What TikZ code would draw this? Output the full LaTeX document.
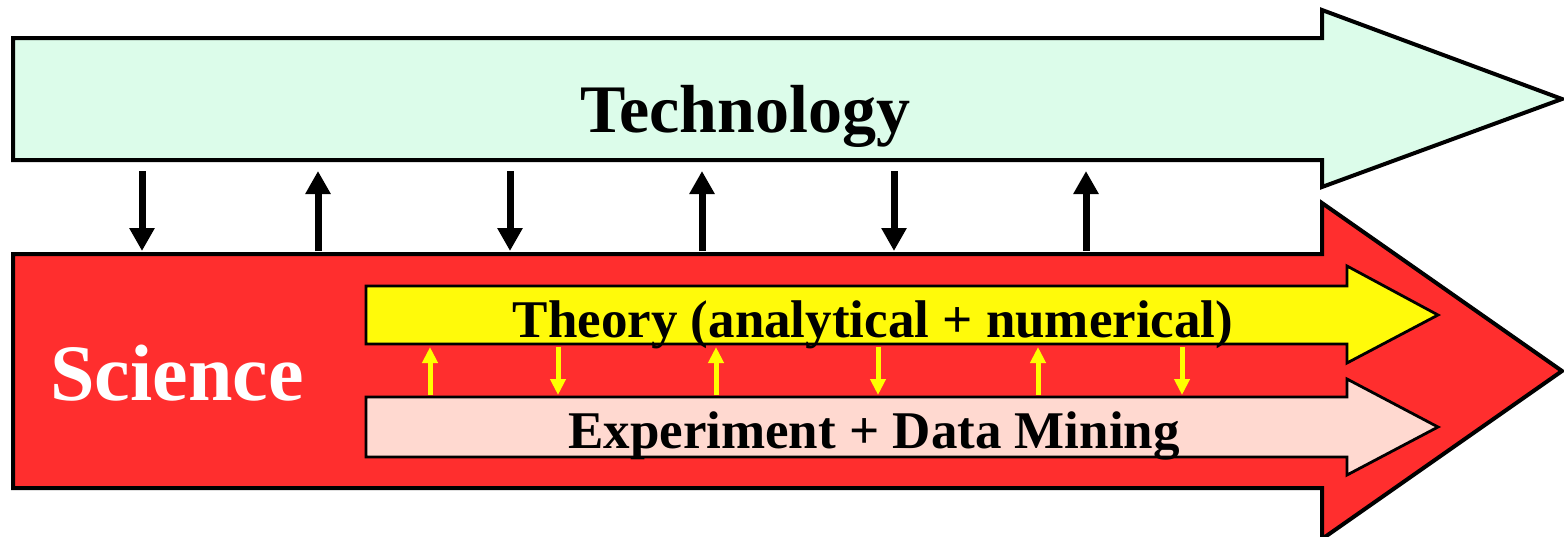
\documentclass[tikz,border=0pt]{standalone}
\usepackage{fontspec}
\setmainfont{Liberation Serif}
\usetikzlibrary{arrows.meta}
\definecolor{techfill}{HTML}{DCFCEA}
\definecolor{scifill}{HTML}{FF2E2E}
\definecolor{thfill}{HTML}{FFFA0A}
\definecolor{exfill}{HTML}{FFD9D0}
\definecolor{linkyellow}{HTML}{FFFF00}
\tikzset{
  bigarrow/.style={draw=black, line width=2pt, line join=miter},
  smallarrow/.style={draw=black, line width=1.4pt, line join=miter},
  bigtext/.style={font=\bfseries\fontsize{34}{40}\selectfont, anchor=base, inner sep=0pt},
  midtext/.style={font=\bfseries\fontsize{26.5}{30}\selectfont, anchor=base, inner sep=0pt},
  blacklink/.style={line width=3.5pt, -{Triangle[width=12pt,length=11.5pt]}, black},
  yellowlink/.style={line width=2.5pt, -{Triangle[width=7.5pt,length=8pt]}, linkyellow},
}
\begin{document}
\begin{tikzpicture}[x=0.5pt,y=-0.5pt]
\useasboundingbox (0,0) rectangle (1564,536);
% Technology arrow
\path[bigarrow, fill=techfill] (13,38) -- (1322,38) -- (1322,10) -- (1562,99) -- (1322,187) -- (1322,160) -- (13,160) -- cycle;
% Science arrow
\path[bigarrow, fill=scifill] (13,254) -- (1322,254) -- (1322,203) -- (1562,371) -- (1322,539) -- (1322,488) -- (13,488) -- cycle;
% Theory arrow
\path[smallarrow, fill=thfill] (366,286) -- (1347,286) -- (1347,266) -- (1438,315) -- (1347,363) -- (1347,344) -- (366,344) -- cycle;
% Experiment arrow
\path[smallarrow, fill=exfill] (366,397) -- (1347,397) -- (1347,379) -- (1438,427) -- (1347,475) -- (1347,457) -- (366,457) -- cycle;
% texts
\node[bigtext] (tech) at (745,132) {Technology};
\node[bigtext, font=\bfseries\fontsize{40}{46}\selectfont, text=white] (sci) at (177,400) {Science};
\node[midtext] (theory) at (873,337) {Theory (analytical + numerical)};
\node[midtext] (exper) at (874,448) {Experiment + Data Mining};
% coordinates on arrow edges
\foreach \i/\x in {1/142,2/318,3/510,4/702,5/894,6/1086}{
  \coordinate (t\i) at (\x,171);
  \coordinate (s\i) at (\x,251);
}
\foreach \i/\x in {1/430,2/558,3/716,4/878,5/1038,6/1182}{
  \coordinate (th\i) at (\x,347);
  \coordinate (ex\i) at (\x,395);
}
% black links
\draw[blacklink] (t1) -- (s1);
\draw[blacklink] (s2) -- (t2);
\draw[blacklink] (t3) -- (s3);
\draw[blacklink] (s4) -- (t4);
\draw[blacklink] (t5) -- (s5);
\draw[blacklink] (s6) -- (t6);
% yellow links
\draw[yellowlink] (ex1) -- (th1);
\draw[yellowlink] (th2) -- (ex2);
\draw[yellowlink] (ex3) -- (th3);
\draw[yellowlink] (th4) -- (ex4);
\draw[yellowlink] (ex5) -- (th5);
\draw[yellowlink] (th6) -- (ex6);
\end{tikzpicture}
\end{document}
